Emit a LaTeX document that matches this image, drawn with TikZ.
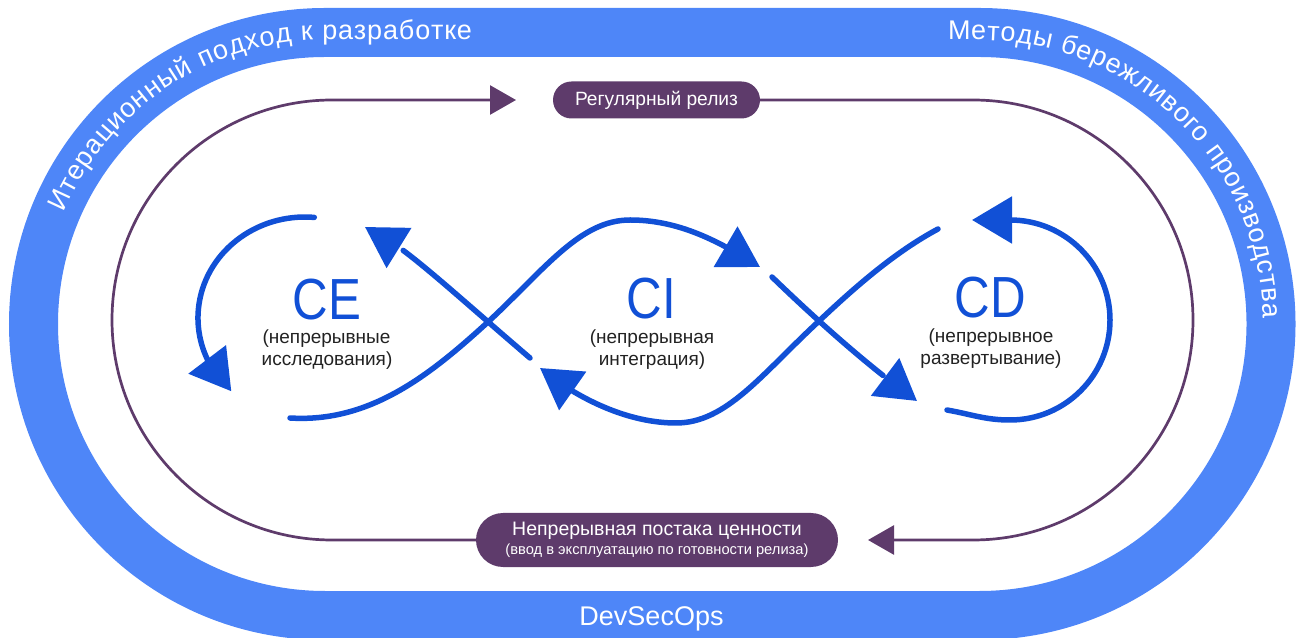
\documentclass[tikz,border=0pt]{standalone}
\usepackage{fontspec}
\setmainfont{Liberation Sans}
\usepackage{graphicx}
\usetikzlibrary{arrows.meta,bending,decorations.text}

\definecolor{bandblue}{HTML}{4E86F8}
\definecolor{flowblue}{HTML}{1150D6}
\definecolor{relpurple}{HTML}{5E3B6B}
\definecolor{labelgray}{HTML}{222222}

\begin{document}
\begin{tikzpicture}[x=1pt,y=1pt,
  band/.style={draw=bandblue,line width=49pt},
  bandtext/.style={text=white,font=\fontsize{27}{32}\selectfont,inner sep=0pt},
  loopline/.style={draw=relpurple,line width=2.7pt,-{Triangle[length=26pt,width=29pt]}},
  pill/.style={fill=relpurple,text=white,rounded corners=#1,inner sep=0pt,align=center},
  flow/.style={draw=flowblue,line width=5.5pt,line cap=round,-{Triangle[length=40pt,width=46pt]}},
  bigtag/.style={text=flowblue,font=\fontsize{58}{60}\selectfont,inner sep=0pt,anchor=base},
  subtag/.style={text=labelgray,font=\fontsize{19}{22}\selectfont,inner sep=0pt,anchor=base},
]
\useasboundingbox (0,0) rectangle (1300,637);

% outer track
\draw[band] (325,604.5) -- (979.5,604.5)
  arc[start angle=90,end angle=-90,radius=291.5pt] -- (325,21.5)
  arc[start angle=270,end angle=90,radius=291.5pt] -- cycle;

% curved captions on the track
\path[decorate,decoration={text along path,text align={fit to path},text color=white,
  text={|\fontsize{27}{30}\selectfont|Итерационный подход к разработке}}]
  (63.6,424) arc[start angle=157,end angle=90,radius=284pt] -- (472,597);
\path[decorate,decoration={text along path,text align={fit to path},text color=white,
  text={|\fontsize{27}{30}\selectfont|Методы бережливого производства}}]
  (948,597) -- (979.5,597) arc[start angle=90,end angle=1.2,radius=284pt];
\node[bandtext,anchor=base] (dso) at (651.5,12) {DevSecOps};

% release loop
\node[pill=18.5pt,minimum width=207pt,minimum height=37pt,
  font=\fontsize{19.2}{22}\selectfont] (rel) at (656.5,537) {Регулярный релиз};
\node[pill=27pt,minimum width=362pt,minimum height=54pt,
  font=\fontsize{14.7}{19}\selectfont] (val) at (657,97)
  {{\fontsize{19.5}{19}\selectfont Непрерывная постака ценности}\\
   (ввод в эксплуатацию по готовности релиза)};
\coordinate (reltip) at (516,537);
\coordinate (valtip) at (868,97);
\draw[loopline] (val.west) -- (332,97)
  arc[start angle=270,end angle=90,radius=220pt] -- (reltip);
\draw[loopline] (rel.east) -- (973,537)
  arc[start angle=90,end angle=-90,radius=220pt] -- (valtip);

% CE / CI / CD figure-of-eight
\draw[flow] (314.3,419.6) arc[start angle=85,end angle=226.5,x radius=107pt,y radius=101pt];
\draw[flow] (290,219) .. controls (370,214) and (430,262) .. (488,315)
  .. controls (545,368) and (580,417) .. (630,417)
  .. controls (680,417) and (720,395) .. (760,370);
\draw[flow] (772,360) .. controls (830,304) and (880,262) .. (917,236);
\draw[flow] (947,227) to[out=-10,in=180] (1010,217)
  arc[start angle=-90,end angle=90,radius=100pt] -- (972,417);
\draw[flow] (938,408) .. controls (895,385) and (855,350) .. (818,315)
  .. controls (761,262) and (726,214) .. (676,214)
  .. controls (626,214) and (575,240) .. (540,269);
\draw[flow] (530,279) .. controls (440,356) and (400,395) .. (365,410);

% labels
\node[bigtag] (ce) at (327,317) {\scalebox{0.85}[1]{CE}};
\node[subtag] (ce1) at (326.5,293) {(непрерывные};
\node[subtag] (ce2) at (327,271.3) {исследования)};
\node[bigtag] (ci) at (651.5,318) {\scalebox{0.85}[1]{CI}};
\node[subtag] (ci1) at (652,293) {(непрерывная};
\node[subtag] (ci2) at (652,271.3) {интеграция)};
\node[bigtag] (cd) at (990,319) {\scalebox{0.85}[1]{CD}};
\node[subtag] (cd1) at (991,294) {(непрерывное};
\node[subtag] (cd2) at (991,272) {развертывание)};
\end{tikzpicture}
\end{document}
